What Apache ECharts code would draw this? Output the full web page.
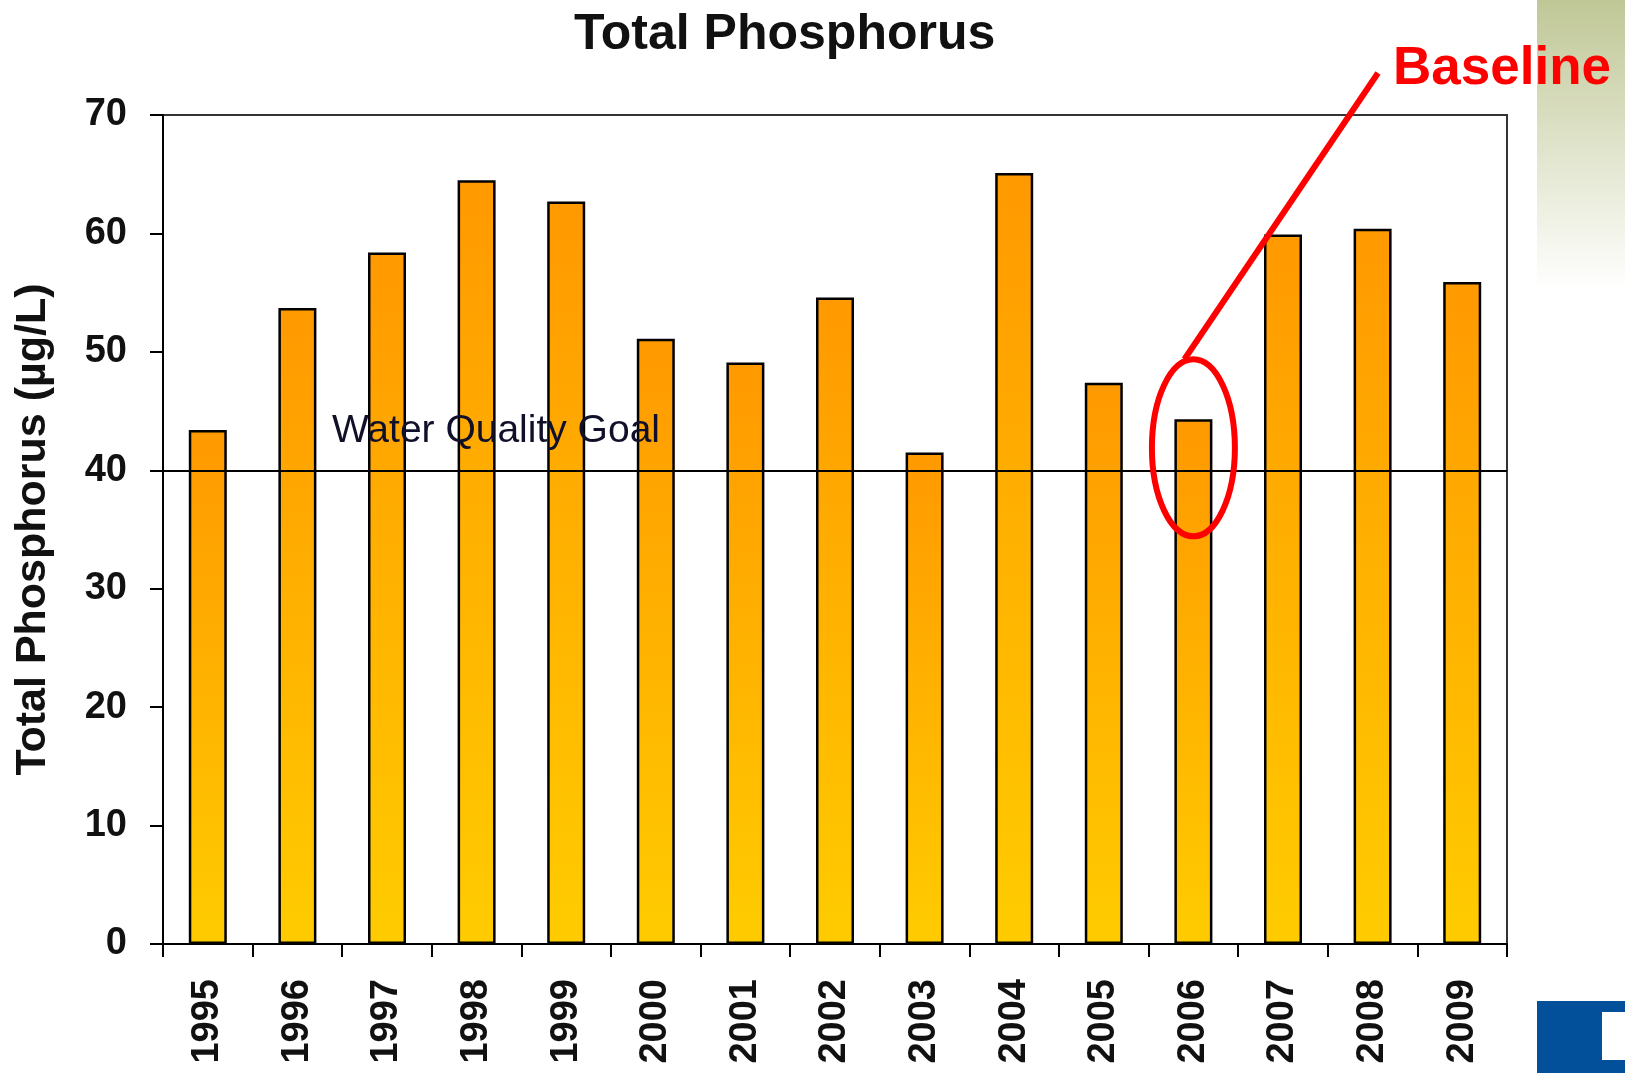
<!DOCTYPE html>
<html>
<head>
<meta charset="utf-8">
<script src="https://cdn.jsdelivr.net/npm/echarts@6/dist/echarts.min.js"></script>
<style>
html, body { margin: 0; padding: 0; background: #fff; }
#main { width: 1625px; height: 1073px; }
</style>
</head>
<body>
<div id="main"></div>
<script>
var years = ['1995', '1996', '1997', '1998', '1999', '2000', '2001', '2002',
             '2003', '2004', '2005', '2006', '2007', '2008', '2009'];
var phosphorus = [43.4, 53.7, 58.4, 64.5, 62.7, 51.1, 49.1, 54.6,
                  41.5, 65.1, 47.4, 44.3, 59.9, 60.4, 55.9];
var goalValue = 40;
var goalText = 'Water Quality Goal';
var baselineYear = '2006';
var baselineText = 'Baseline';

var fontName = 'Liberation Sans, Arial, sans-serif';

var myChart = echarts.init(document.getElementById('main'));

var option = {
    animation: false,
    backgroundColor: '#fff',
    title: {
        text: 'Total Phosphorus',
        left: 569,
        top: 5,
        textStyle: { fontFamily: fontName, fontSize: 50, fontWeight: 'bold', color: '#111' }
    },
    grid: {
        left: 163, right: 118, top: 115, bottom: 129,
        show: true, borderColor: '#333', borderWidth: 2, backgroundColor: 'transparent'
    },
    xAxis: {
        type: 'category',
        data: years,
        axisLine: { lineStyle: { color: '#000', width: 2 } },
        axisTick: { show: true, length: 13, alignWithLabel: false, lineStyle: { color: '#000', width: 2 } },
        axisLabel: {
            rotate: 90, margin: 35, interval: 0,
            fontFamily: fontName, fontSize: 38, fontWeight: 'bold', color: '#111'
        },
        splitLine: { show: false }
    },
    yAxis: {
        type: 'value',
        min: 0, max: 70, interval: 10,
        name: 'Total Phosphorus (µg/L)',
        nameLocation: 'middle',
        nameGap: 108,
        nameRotate: 90,
        nameTextStyle: { fontFamily: fontName, fontSize: 43, fontWeight: 'bold', color: '#111' },
        axisLine: { show: true, lineStyle: { color: '#000', width: 2 } },
        axisTick: { show: true, length: 13, lineStyle: { color: '#000', width: 2 } },
        axisLabel: { margin: 36, fontFamily: fontName, fontSize: 38, fontWeight: 'bold', color: '#111' },
        splitLine: { show: false }
    },
    series: [{
        name: 'Total Phosphorus',
        type: 'bar',
        data: phosphorus,
        barWidth: 38,
        itemStyle: {
            color: new echarts.graphic.LinearGradient(0, 0, 0, 1, [
                { offset: 0, color: '#FF9900' },
                { offset: 1, color: '#FFCC00' }
            ]),
            borderColor: '#000',
            borderWidth: 2.5
        },
        markLine: {
            silent: true,
            symbol: 'none',
            lineStyle: { color: '#000', width: 2, type: 'solid' },
            label: {
                show: true,
                position: 'insideStartTop',
                distance: [169, 20],
                formatter: goalText,
                fontFamily: fontName, fontSize: 39, color: '#10102a'
            },
            data: [{ yAxis: goalValue }]
        }
    }]
};
myChart.setOption(option);

// 注释：椭圆、引线、Baseline 文字
var c = myChart.convertToPixel({ seriesIndex: 0 }, [baselineYear, 41.9]);
var rx = 41.5, ry = 88.5;
myChart.setOption({
    graphic: [
        {
            type: 'rect', z: 0,
            shape: { x: 1537, y: 0, width: 88, height: 290 },
            style: {
                fill: new echarts.graphic.LinearGradient(0, 0, 0, 1, [
                    { offset: 0, color: '#c0c796' },
                    { offset: 1, color: '#ffffff' }
                ])
            }
        },
        {
            type: 'rect', z: 0,
            shape: { x: 1537, y: 1001, width: 88, height: 72 },
            style: { fill: '#02509a' }
        },
        {
            type: 'rect', z: 1,
            shape: { x: 1602, y: 1012, width: 23, height: 48 },
            style: { fill: '#ffffff' }
        },
        {
            type: 'ellipse', z: 100,
            shape: { cx: c[0], cy: c[1], rx: rx, ry: ry },
            style: { fill: 'none', stroke: '#ff0000', lineWidth: 6 }
        },
        {
            type: 'line', z: 100,
            shape: { x1: c[0] - 9, y1: c[1] - ry, x2: 1378, y2: 73 },
            style: { stroke: '#ff0000', lineWidth: 6 }
        },
        {
            type: 'text', z: 101,
            style: {
                text: baselineText, x: 1393, y: 69,
                verticalAlign: 'middle', align: 'left',
                font: 'bold 53px Liberation Sans, Arial, sans-serif',
                fill: '#ff0000'
            }
        }
    ]
});
</script>
</body>
</html>
